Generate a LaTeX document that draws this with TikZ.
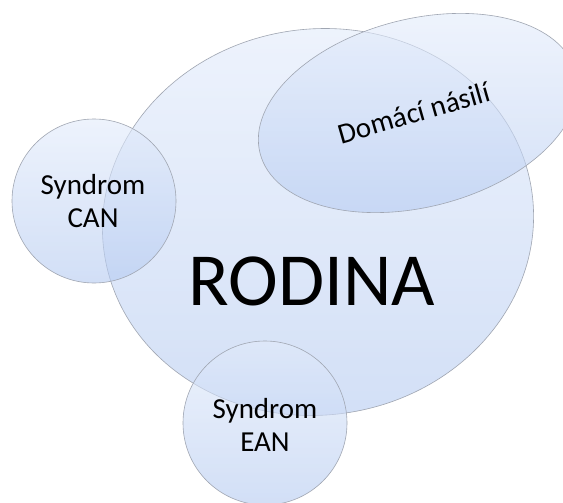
\documentclass[tikz,border=0pt]{standalone}
\usepackage{fontspec}
\setmainfont{Carlito}
\definecolor{btop}{RGB}{226,235,251}
\definecolor{bbot}{RGB}{180,202,241}
\definecolor{outl}{RGB}{160,166,178}
\begin{document}
\begin{tikzpicture}[x=1pt,y=-1pt,
  bubble/.style={draw=outl, line width=0.6pt, top color=btop, bottom color=bbot, fill opacity=0.6, draw opacity=1},
  lbl/.style={text=black, align=center, inner sep=0pt, font=\fontsize{29}{33}\selectfont},
  big/.style={text=black, inner sep=0pt, font=\fontsize{75}{80}\selectfont}]
\useasboundingbox (0,0) rectangle (563,503);
\clip (0,0) rectangle (563,503);
\fill[white] (0,0) rectangle (563,503);
% RODINA
\begin{scope}[shift={(318,222)}, rotate=8]
  \path[bubble] (0,0) ellipse [x radius=216, y radius=193];
\end{scope}
% Domaci nasili
\begin{scope}[shift={(418,113)}, rotate=14.3]
  \path[bubble] (0,0) ellipse [x radius=163, y radius=94];
\end{scope}
% Syndrom CAN
\path[bubble] (94,201) circle [radius=82];
% Syndrom EAN
\path[bubble] (265,423) circle [radius=82];
\node[big, anchor=base] (rodina) at (312,305) {RODINA};
\node[lbl, anchor=base] (can) at (93,227) {Syndrom\\CAN};
\node[lbl, anchor=base] (ean) at (265,451) {Syndrom\\EAN};
\node[lbl, rotate=16] (dn) at (414,113) {Domácí násilí};
\end{tikzpicture}
\end{document}
